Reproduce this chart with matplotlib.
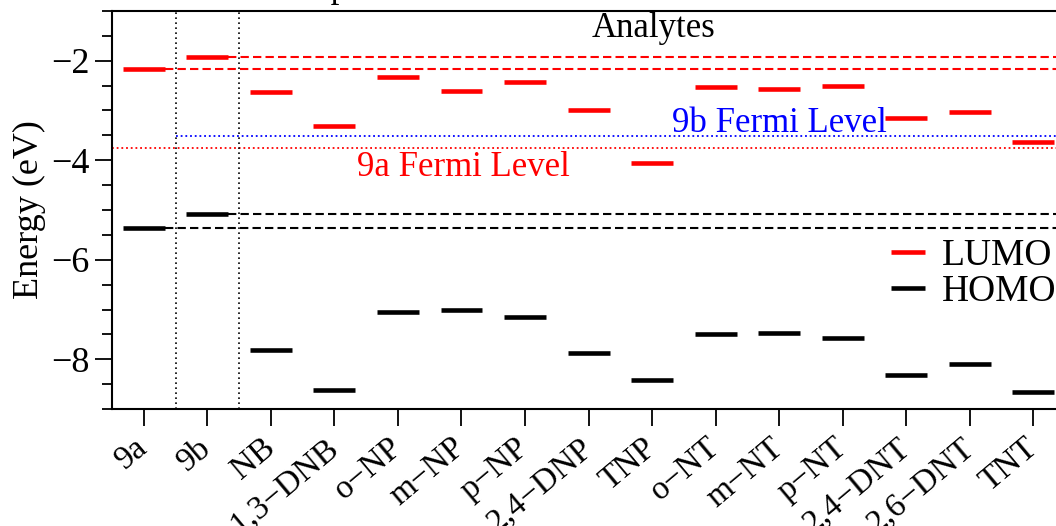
import matplotlib
matplotlib.use("Agg")
import matplotlib.pyplot as plt
import numpy as np
from matplotlib.ticker import MultipleLocator

plt.rcParams['font.family'] = ['Liberation Serif', 'DejaVu Serif']

names = ['9a', '9b', 'NB', '1,3−DNB', 'o−NP', 'm−NP', 'p−NP', '2,4−DNP', 'TNP',
         'o−NT', 'm−NT', 'p−NT', '2,4−DNT', '2,6−DNT', 'TNT']
lumo = [-2.16, -1.92, -2.63, -3.32, -2.33, -2.60, -2.42, -3.00, -4.06,
        -2.53, -2.56, -2.51, -3.16, -3.03, -3.64]
homo = [-5.36, -5.09, -7.82, -8.62, -7.05, -7.01, -7.15, -7.88, -8.41,
        -7.49, -7.47, -7.57, -8.31, -8.10, -8.65]
fermi_9a = -3.76
fermi_9b = -3.51

fs = 25
x = np.arange(len(names))
half = 0.33
xmax = len(names) - 0.5

fig = plt.figure(figsize=(10.56, 5.26), dpi=100)
ax = fig.add_axes([0.1061, 0.2224, 0.9025, 0.7567])

# energy levels
ax.hlines(lumo, x - half, x + half, colors='red', lw=3.3, capstyle='butt', label='LUMO')
ax.hlines(homo, x - half, x + half, colors='black', lw=3.3, capstyle='butt', label='HOMO')

# receptor reference lines
for i in range(2):
    ax.hlines(lumo[i], x[i] + half, xmax, colors='red', lw=1.5, linestyles=(0, (4, 2)))
    ax.hlines(homo[i], x[i] + half, xmax, colors='black', lw=1.5, linestyles=(0, (4, 2)))

# fermi levels
ax.hlines(fermi_9a, -0.5, xmax, colors='red', lw=1.3, linestyles=(0, (1, 1.6)))
ax.hlines(fermi_9b, 0.5, xmax, colors='blue', lw=1.3, linestyles=(0, (1, 1.6)))
ax.text(3.35, -4.32, '9a Fermi Level', color='red', fontsize=fs, va='baseline')
ax.text(8.31, -3.43, '9b Fermi Level', color='blue', fontsize=fs, va='baseline')

# group separators
for xv in [0.5, 1.5]:
    ax.axvline(xv, color='black', lw=1.2, ls=(0, (1, 2)))

ax.text(8.02, -1.52, 'Analytes', fontsize=fs, ha='center', va='baseline')
ax.text(1.84, -0.72, 'Receptors', fontsize=fs, ha='left', va='baseline')

ax.set_xlim(-0.5, xmax)
ax.set_ylim(-9, -1)
ax.set_xticks(x)
ax.set_xticklabels(names, rotation=40, ha='right', va='center', rotation_mode='anchor', fontsize=24)
ax.set_yticks([-8, -6, -4, -2])
ax.set_yticklabels(['−8', '−6', '−4', '−2'], fontsize=26)
ax.yaxis.set_minor_locator(MultipleLocator(0.5))
ax.tick_params(axis='both', which='major', direction='out', length=12, width=1.3, pad=4)
ax.tick_params(axis='x', which='major', pad=13)
ax.tick_params(axis='y', which='minor', direction='out', length=7, width=1.3)
for s in ax.spines.values():
    s.set_linewidth(1.5)
ax.set_ylabel('Energy (eV)', fontsize=26, labelpad=4)

fig.legend(loc='center right', bbox_to_anchor=(1.0, 0.479), frameon=False,
           fontsize=27, handlelength=0.9, handletextpad=0.45, borderpad=0,
           borderaxespad=0, labelspacing=0.05)

fig.savefig('out.png', dpi=100)
